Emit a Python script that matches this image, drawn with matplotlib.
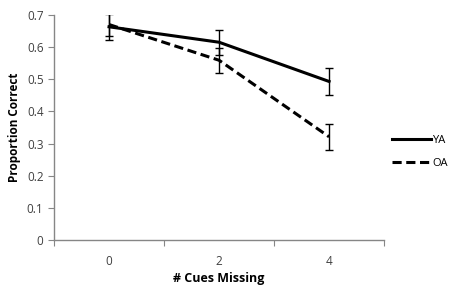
import numpy as np
import matplotlib
matplotlib.use("Agg")
import matplotlib.pyplot as plt

# data
cues = ["0", "2", "4"]
ya_mean = [0.663, 0.615, 0.493]
ya_err = [0.040, 0.039, 0.042]
oa_mean = [0.670, 0.559, 0.321]
oa_err = [0.037, 0.039, 0.040]

plt.rcParams["font.family"] = ["Open Sans", "DejaVu Sans"]

fig = plt.figure(figsize=(4.54, 2.92), dpi=100)
ax = fig.add_axes([0.119, 0.178, 0.727, 0.771])

x = np.arange(len(cues))
ax.errorbar(x, ya_mean, yerr=ya_err, color="black", lw=2.2, capsize=3,
            elinewidth=1, capthick=1, label="YA")
ax.errorbar(x, oa_mean, yerr=oa_err, color="black", lw=2.2, ls=(0, (3, 1.5)),
            capsize=3, elinewidth=1, capthick=1, label="OA")

ax.set_xlim(-0.5, len(cues) - 0.5)
ax.set_ylim(0, 0.7)
ax.set_yticks(np.arange(0, 0.71, 0.1))
ax.set_yticklabels(["0", "0.1", "0.2", "0.3", "0.4", "0.5", "0.6", "0.7"])

# ticks at category boundaries, labels at category centres
ax.set_xticks(np.arange(-0.5, len(cues), 1.0))
ax.set_xticklabels([])
ax.set_xticks(x, minor=True)
ax.set_xticklabels(cues, minor=True)
ax.tick_params(axis="x", which="minor", length=0, pad=11)
ax.tick_params(axis="both", which="major", length=4, color="#868686",
               labelcolor="#404040", labelsize=8.5)
ax.tick_params(axis="x", which="minor", labelcolor="#404040", labelsize=8.5)

for s in ["top", "right"]:
    ax.spines[s].set_visible(False)
for s in ["left", "bottom"]:
    ax.spines[s].set_color("#868686")
    ax.spines[s].set_linewidth(1)

ax.set_xlabel("# Cues Missing", fontsize=9, fontweight="bold", labelpad=3)
ax.set_ylabel("Proportion Correct", fontsize=8.5, fontweight="bold", labelpad=4)

handles, labels = ax.get_legend_handles_labels()
handles = [h[0] for h in handles]
ax.legend(handles, labels, loc="center left", bbox_to_anchor=(1.0, 0.39),
          frameon=False, fontsize=8, handlelength=3.5, handletextpad=0.15,
          labelspacing=1.1, borderaxespad=0.3)

fig.savefig("out.png", dpi=100)
